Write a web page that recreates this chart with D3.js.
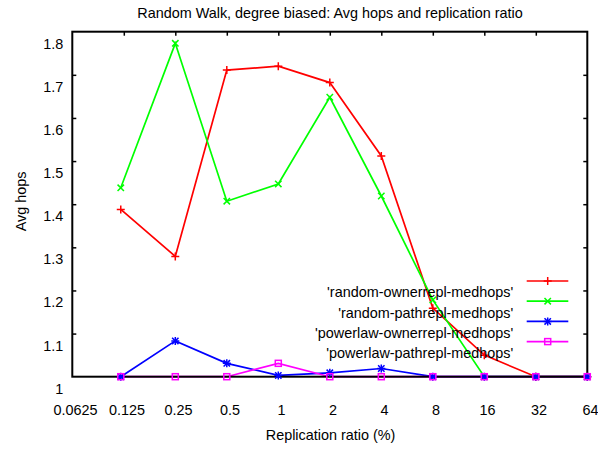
<!DOCTYPE html>
<html>
<head>
<meta charset="utf-8">
<script src="https://cdn.jsdelivr.net/npm/d3@7"></script>
<style>
  html, body { margin: 0; padding: 0; background: #fff; }
  svg { display: block; font-family: "Liberation Sans", Arial, sans-serif; }
</style>
</head>
<body>
<svg id="chart" width="598" height="452"></svg>
<script>
// ---------------- data ----------------
const title = "Random Walk, degree biased: Avg hops and replication ratio";
const xTitle = "Replication ratio (%)";
const yTitle = "Avg hops";
const xTicks = [0.0625, 0.125, 0.25, 0.5, 1, 2, 4, 8, 16, 32, 64];
const xTickLabels = ["0.0625", "0.125", "0.25", "0.5", "1", "2", "4", "8", "16", "32", "64"];
const yTicks = [1, 1.1, 1.2, 1.3, 1.4, 1.5, 1.6, 1.7, 1.8];
const yTickLabels = ["1", "1.1", "1.2", "1.3", "1.4", "1.5", "1.6", "1.7", "1.8"];
const ratios = [0.12, 0.25, 0.5, 1, 2, 4, 8, 16, 32, 64];
const seriesNames = ["'random-ownerrepl-medhops'", "'random-pathrepl-medhops'", "'powerlaw-ownerrepl-medhops'", "'powerlaw-pathrepl-medhops'"];
const randomOwner   = [1.388, 1.279, 1.711, 1.720, 1.682, 1.512, 1.159, 1.050, 1.000, 1.000];
const randomPath    = [1.438, 1.773, 1.407, 1.447, 1.648, 1.419, 1.178, 1.000, 1.000, 1.000];
const powerlawOwner = [1.000, 1.083, 1.031, 1.003, 1.009, 1.019, 1.000, 1.000, 1.000, 1.000];
const powerlawPath  = [1.000, 1.000, 1.000, 1.031, 1.000, 1.000, 1.000, 1.000, 1.000, 1.000];
const seriesColors = ["#ff0000", "#00ff00", "#0000ff", "#ff00ff"];
const seriesMarkers = ["plus", "cross", "star", "square"];

// ---------------- layout ----------------
const svg = d3.select("#chart");
const L = 72.3, R = 587.3, T = 31.7, B = 376.7;
const x = d3.scaleLog().base(2).domain([0.0625, 64]).range([L, R]);
const y = d3.scaleLinear().domain([1, 1.8]).range([B, T]);
const SX = 0.96;   // slight horizontal squeeze of the original text rendering
const FS = 15;

function text(g, s, tx, ty, anchor, rot) {
  return g.append("text")
    .attr("transform", `translate(${tx},${ty})` + (rot ? ` rotate(${rot})` : "") + ` scale(${SX},1)`)
    .attr("text-anchor", anchor)
    .attr("font-size", FS)
    .attr("fill", "#000")
    .text(s);
}

const series = [randomOwner, randomPath, powerlawOwner, powerlawPath].map((vals, i) => ({
  name: seriesNames[i], color: seriesColors[i], marker: seriesMarkers[i],
  points: ratios.map((r, j) => ({ r, v: vals[j] }))
}));

// lines
const line = d3.line().x(d => x(d.r)).y(d => y(d.v));
const gLines = svg.append("g");
series.forEach(s => {
  gLines.append("path").datum(s.points)
    .attr("d", line).attr("fill", "none")
    .attr("stroke", s.color).attr("stroke-width", 1.7);
});

// axes (gnuplot-style inward ticks, labels offset)
const gx = svg.append("g").attr("transform", `translate(0,${B})`)
  .call(d3.axisBottom(x).tickValues(xTicks).tickFormat((d, i) => xTickLabels[i]).tickSizeInner(0).tickSizeOuter(0));
const gxTop = svg.append("g").attr("transform", `translate(0,${T})`)
  .call(d3.axisTop(x).tickValues(xTicks.slice(1, -1)).tickFormat("").tickSizeInner(-4).tickSizeOuter(0));
const gy = svg.append("g").attr("transform", `translate(${L},0)`)
  .call(d3.axisLeft(y).tickValues(yTicks).tickFormat((d, i) => yTickLabels[i]).tickSizeInner(-4).tickSizeOuter(0));
const gyR = svg.append("g").attr("transform", `translate(${R},0)`)
  .call(d3.axisRight(y).tickValues(yTicks.slice(1, -1)).tickFormat("").tickSizeInner(-4).tickSizeOuter(0));
[gx, gxTop, gy, gyR].forEach(g => {
  g.select(".domain").remove();
  g.attr("font-family", null).attr("font-size", null);
  g.selectAll(".tick line").attr("stroke", "#000").attr("stroke-width", 1.5);
});
gx.selectAll(".tick text")
  .attr("x", null).attr("y", null).attr("dy", null)
  .attr("transform", `translate(2.7,38) scale(${SX},1)`)
  .attr("font-size", FS).attr("fill", "#000");
gy.selectAll(".tick text")
  .attr("x", null).attr("dy", null)
  .attr("transform", `translate(-9,16.5) scale(${SX},1)`)
  .attr("text-anchor", "end")
  .attr("font-size", FS).attr("fill", "#000");
gy.selectAll(".tick").filter(d => d === 1 || d === 1.8).select("line").remove();

// border
svg.append("rect").attr("x", L).attr("y", T).attr("width", R - L).attr("height", B - T)
  .attr("fill", "none").attr("stroke", "#000").attr("stroke-width", 2);

// markers
function drawMarker(g, type, cx, cy, color) {
  const sw = 1.5;
  if (type === "plus" || type === "star") {
    g.append("path").attr("d", `M${cx - 4},${cy}H${cx + 4}M${cx},${cy - 4}V${cy + 4}`)
      .attr("stroke", color).attr("stroke-width", sw).attr("fill", "none");
  }
  if (type === "cross" || type === "star") {
    const h = 3.2;
    g.append("path").attr("d", `M${cx - h},${cy - h}L${cx + h},${cy + h}M${cx - h},${cy + h}L${cx + h},${cy - h}`)
      .attr("stroke", color).attr("stroke-width", sw).attr("fill", "none");
  }
  if (type === "square") {
    g.append("rect").attr("x", cx - 3).attr("y", cy - 3).attr("width", 6).attr("height", 6)
      .attr("stroke", color).attr("stroke-width", sw).attr("fill", "none");
  }
}
const gMarks = svg.append("g");
series.forEach(s => {
  s.points.forEach(p => drawMarker(gMarks, s.marker, x(p.r), y(p.v), s.color));
});

// legend
const gLeg = svg.append("g");
const legY0 = 281, legStep = 20.2;
series.forEach((s, i) => {
  const ly = legY0 + i * legStep;
  gLeg.append("line").attr("x1", 526.7).attr("x2", 568.3).attr("y1", ly).attr("y2", ly)
    .attr("stroke", s.color).attr("stroke-width", 1.7);
  drawMarker(gLeg, s.marker, 547.7, ly, s.color);
  text(gLeg, s.name, 513.3, ly + 16.3, "end");
});

// titles
text(svg, title, 330, 18.3, "middle");
text(svg, xTitle, 330.5, 440, "middle");
text(svg, yTitle, 26, 201.5, "middle", -90);
</script>
</body>
</html>
